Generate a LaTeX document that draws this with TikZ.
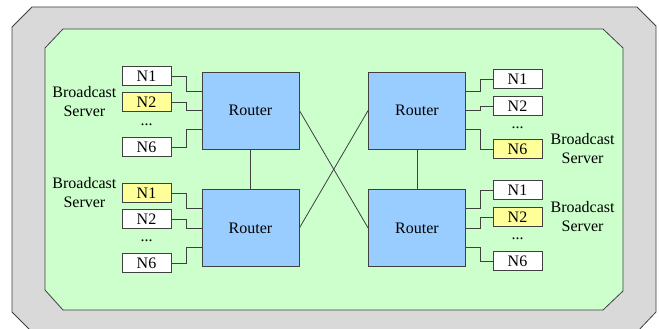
\documentclass[tikz,border=0pt]{standalone}
\usepackage{fontspec}
\setmainfont{Liberation Serif}
\newfontfamily\diagfont{Liberation Serif}
\definecolor{FrameGray}{HTML}{D9D9D9}
\definecolor{PanelGreen}{HTML}{CCFFCC}
\definecolor{RouterBlue}{HTML}{99CCFF}
\definecolor{ServerYellow}{HTML}{FFFF99}
\definecolor{LineGray}{HTML}{404040}
\usetikzlibrary{positioning, calc}

\begin{document}
\begin{tikzpicture}[
  x=1pt, y=-1pt,
  router/.style={rectangle, draw=LineGray, thick, fill=RouterBlue,
    minimum width=97pt, minimum height=77pt, inner sep=0pt},
  nbox/.style={rectangle, draw=LineGray, thick, fill=white,
    minimum width=49pt, minimum height=19pt, inner sep=0pt},
  srv/.style={nbox, fill=ServerYellow},
  srvtext/.style={align=center, inner sep=0pt},
  link/.style={draw=LineGray, thick},
  font=\diagfont\fontsize{16}{19}\selectfont, node distance=5pt
]
  \useasboundingbox (0,0) rectangle (659,329);
  % frame and panel
  \fill[FrameGray, draw=LineGray, thick] (12,27) -- (32,7) -- (637,7) -- (656,26)
    -- (656,312) -- (637,332) -- (32,332) -- (12,312) -- cycle;
  \fill[PanelGreen, draw=LineGray, thick] (45,48) -- (63,29) -- (603,29) -- (623,48)
    -- (623,291) -- (603,310) -- (63,310) -- (45,290) -- cycle;

  % routers
  \node[router] (rtl) at (250.5,110.5) {Router};
  \node[router] (rbl) at (250.5,228) {Router};
  \node[router] (rtr) at (417,110.5) {Router};
  \node[router] (rbr) at (417,228) {Router};

  % left hosts
  \node[nbox] (tl1) at (146.5,76) {N1};
  \node[srv]  (tl2) at (146.5,102) {N2};
  \node[nbox] (tl6) at (146.5,147) {N6};
  \node at ($(tl2)!0.5!(tl6)$) {...};
  \node[srvtext, left=of tl2] (stl) {Broadcast\\Server};

  \node[srv]  (bl1) at (146.5,193) {N1};
  \node[nbox] (bl2) at (146.5,219) {N2};
  \node[nbox] (bl6) at (146.5,263) {N6};
  \node at ($(bl2)!0.5!(bl6)$) {...};
  \node[srvtext, left=of bl1] (sbl) {Broadcast\\Server};

  % right hosts
  \node[nbox] (tr1) at (517.5,79) {N1};
  \node[nbox] (tr2) at (517.5,106) {N2};
  \node[srv]  (tr6) at (517.5,149) {N6};
  \node at ($(tr2)!0.5!(tr6)$) {...};
  \node[srvtext, right=8pt of tr6] (str) {Broadcast\\Server};

  \node[nbox] (br1) at (517.5,190) {N1};
  \node[srv]  (br2) at (517.5,217) {N2};
  \node[nbox] (br6) at (517.5,261) {N6};
  \node at ($(br2)!0.5!(br6)$) {...};
  \node[srvtext, right=8pt of br2] (sbr) {Broadcast\\Server};

  % host links
  \draw[link] (tl1.east) -- ++(15,0) |- ([yshift=19pt]rtl.west);
  \draw[link] (tl2.east) -- ++(15,0) |- (rtl.west);
  \draw[link] (tl6.east) -- ++(15,0) |- ([yshift=-19pt]rtl.west);
  \draw[link] (bl1.east) -- ++(15,0) |- ([yshift=20pt]rbl.west);
  \draw[link] (bl2.east) -- ++(15,0) |- (rbl.west);
  \draw[link] (bl6.east) -- ++(15,0) |- ([yshift=-19pt]rbl.west);
  \draw[link] (tr1.west) -- ++(-12,0) |- ([yshift=19pt]rtr.east);
  \draw[link] (tr2.west) -- ++(-12,0) |- (rtr.east);
  \draw[link] (tr6.west) -- ++(-12,0) |- ([yshift=-19pt]rtr.east);
  \draw[link] (br1.west) -- ++(-12,0) |- ([yshift=20pt]rbr.east);
  \draw[link] (br2.west) -- ++(-12,0) |- (rbr.east);
  \draw[link] (br6.west) -- ++(-12,0) |- ([yshift=-19pt]rbr.east);

  % router links
  \draw[link] (rtl) -- (rbl);
  \draw[link] (rtr) -- (rbr);
  \draw[link] (rtl.east) -- (rbr.west);
  \draw[link] (rbl.east) -- (rtr.west);
\end{tikzpicture}
\end{document}
